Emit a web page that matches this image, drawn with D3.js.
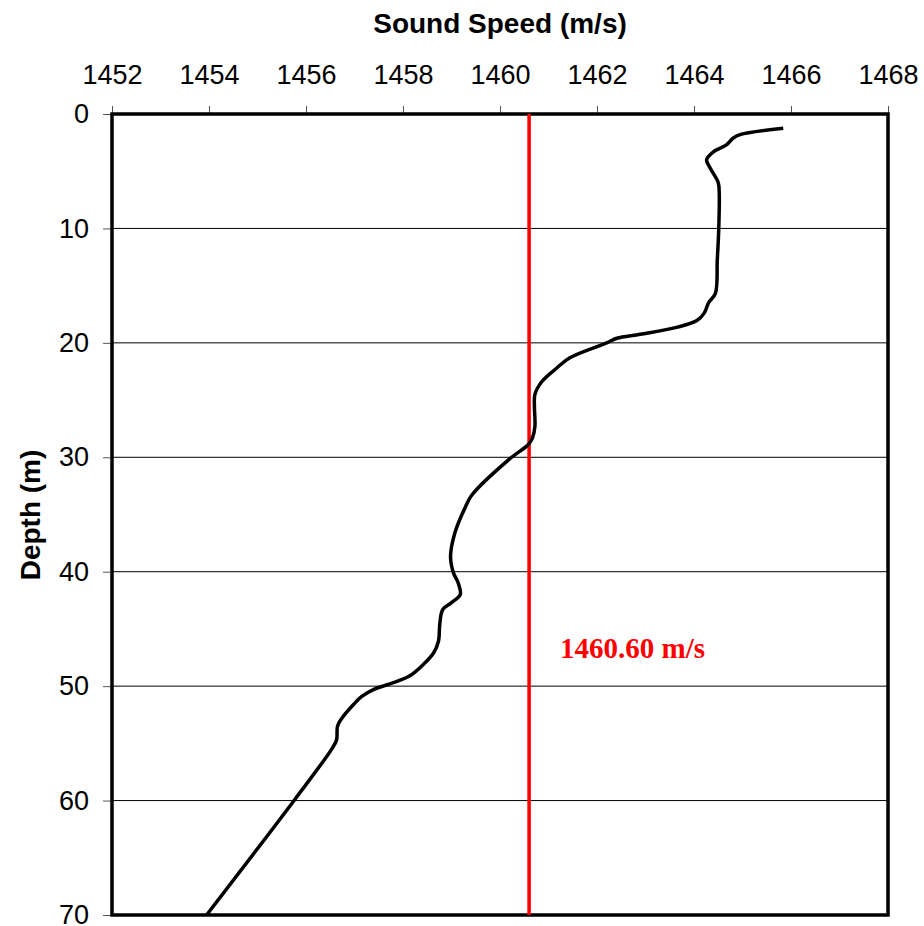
<!DOCTYPE html>
<html>
<head>
  <meta charset="utf-8">
  <title>Sound Speed Profile</title>
  <script src="https://cdn.jsdelivr.net/npm/d3@7"></script>
  <style>
    body { margin: 0; background: #fff; }
    svg { display: block; }
    svg text { font-family: "Liberation Sans", Arial, sans-serif; }
  </style>
</head>
<body>
<svg id="chart" width="924" height="926"></svg>
<script>
  // profile: depth (m) and sound speed (m/s)
  var depths = [1.25, 1.8, 2.1, 2.7, 3.3, 4.0, 4.7, 6.0, 6.9, 10.1, 12.75, 15.7, 16.5, 17.4,
    18.05, 18.65, 19.25, 19.6, 20.0, 21.3, 22.2, 23.4, 24.5, 25.6, 27.3, 28.3, 28.9, 30.1,
    33.3, 34.4, 36.6, 38.7, 40.1, 41.0, 42.0, 42.7, 43.3, 44.5, 46.1, 47.1, 48.1, 49.1,
    49.7, 50.3, 50.9, 51.6, 52.8, 53.5, 54.7, 55.5, 59.9, 70.0];
  var speeds = [1465.84, 1464.95, 1464.81, 1464.67, 1464.40, 1464.26, 1464.33, 1464.50, 1464.52,
    1464.51, 1464.48, 1464.44, 1464.30, 1464.21, 1464.06, 1463.64, 1462.89, 1462.41, 1462.20,
    1461.44, 1461.17, 1460.86, 1460.72, 1460.71, 1460.72, 1460.67, 1460.58, 1460.21, 1459.42,
    1459.28, 1459.07, 1458.98, 1459.04, 1459.14, 1459.18, 1459.00, 1458.82, 1458.76, 1458.73,
    1458.63, 1458.42, 1458.14, 1457.80, 1457.39, 1457.15, 1456.98, 1456.74, 1456.65, 1456.63,
    1456.53, 1455.77, 1453.95];
  var speedTicks = [1452, 1454, 1456, 1458, 1460, 1462, 1464, 1466, 1468];
  var depthTicks = [0, 10, 20, 30, 40, 50, 60, 70];
  var meanSpeed = 1460.60;

  (function() {
    var svg = d3.select('#chart');
    var plotL = 112, plotR = 888, plotT = 114, plotB = 915;

    var x = d3.scaleLinear().domain([1452, 1468]).range([plotL, plotR]);
    var y = d3.scaleLinear().domain([0, 70]).range([plotT, plotB]);

    // horizontal grid
    svg.append('g').selectAll('line')
        .data(depthTicks.slice(1, -1))
      .enter().append('line')
        .attr('x1', plotL).attr('x2', plotR)
        .attr('y1', function(d) { return y(d); })
        .attr('y2', function(d) { return y(d); })
        .attr('stroke', '#000').attr('stroke-width', 1);

    // axes
    var xAxis = svg.append('g')
        .attr('transform', 'translate(0,' + plotT + ')')
        .call(d3.axisTop(x).tickValues(speedTicks).tickSize(8).tickPadding(22)
          .tickFormat(d3.format('d')));
    var yAxis = svg.append('g')
        .attr('transform', 'translate(' + plotL + ',0)')
        .call(d3.axisLeft(y).tickValues(depthTicks).tickSize(9).tickPadding(14));

    [xAxis, yAxis].forEach(function(g) {
      g.attr('font-family', null).attr('font-size', null);
      g.select('.domain').remove();
      g.selectAll('.tick line').attr('stroke', '#555').attr('stroke-width', 1);
      g.selectAll('.tick text')
        .attr('fill', '#000')
        .style('font-size', '27px');
    });

    // frame
    svg.append('rect')
        .attr('x', plotL).attr('y', plotT)
        .attr('width', plotR - plotL).attr('height', plotB - plotT)
        .attr('fill', 'none').attr('stroke', '#000').attr('stroke-width', 3.5);

    // mean speed line
    svg.append('line')
        .attr('x1', x(meanSpeed)).attr('x2', x(meanSpeed))
        .attr('y1', plotT).attr('y2', plotB)
        .attr('stroke', '#ff0000').attr('stroke-width', 3.5);

    svg.append('text')
        .attr('x', 560).attr('y', 658)
        .attr('fill', '#ff0000')
        .style('font-family', '"Liberation Serif", "Times New Roman", serif')
        .style('font-weight', 'bold')
        .style('font-size', '29px')
        .text('1460.60 m/s');

    // profile
    var line = d3.line()
        .x(function(d) { return x(d[1]); })
        .y(function(d) { return y(d[0]); })
        .curve(d3.curveCatmullRom.alpha(0.5));

    svg.append('path')
        .datum(d3.zip(depths, speeds))
        .attr('d', line)
        .attr('fill', 'none')
        .attr('stroke', '#000')
        .attr('stroke-width', 3.5)
        .attr('stroke-linejoin', 'round');

    // titles
    svg.append('text')
        .attr('x', 500).attr('y', 33)
        .attr('text-anchor', 'middle')
        .style('font-weight', 'bold').style('font-size', '28px')
        .text('Sound Speed (m/s)');

    svg.append('text')
        .attr('transform', 'translate(40,515) rotate(-90)')
        .attr('text-anchor', 'middle')
        .style('font-weight', 'bold').style('font-size', '28px')
        .text('Depth (m)');
  })();
</script>
</body>
</html>
